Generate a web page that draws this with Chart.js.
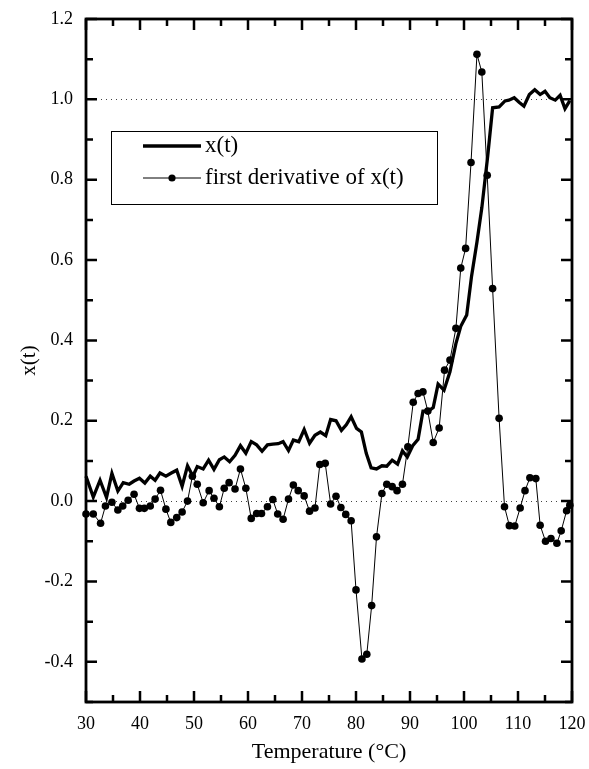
<!DOCTYPE html>
<html><head><meta charset="utf-8">
<script src="https://cdn.jsdelivr.net/npm/chart.js@4/dist/chart.umd.min.js"></script>
<style>html,body{margin:0;padding:0;background:#fff;}#wrap{width:589px;height:769px;}</style>
</head><body><div id="wrap"><canvas id="c" width="589" height="769"></canvas></div>
<script>
const FONT = '"Liberation Serif", "Times New Roman", serif';

const xTickValues = [30, 40, 50, 60, 70, 80, 90, 100, 110, 120];
const yTickValues = [-0.4, -0.2, 0.0, 0.2, 0.4, 0.6, 0.8, 1.0, 1.2];
const yTickLabels = ["-0.4", "-0.2", "0.0", "0.2", "0.4", "0.6", "0.8", "1.0", "1.2"];
const referenceLines = [0.0, 1.0];

const seriesNames = ["x(t)", "first derivative of x(t)"];

const xtTemp = [30.0, 31.35, 32.6, 33.8, 34.8, 35.9, 36.9, 38.0, 38.9, 39.9, 40.9, 41.9, 42.8, 43.7, 44.8, 45.8, 46.8, 47.8, 48.8, 49.8,
  50.6, 51.7, 52.7, 53.7, 54.7, 55.6, 56.6, 57.6, 58.6, 59.6, 60.6, 61.6, 62.6, 63.6, 64.6, 65.6, 66.5, 67.5, 68.4, 69.4,
  70.4, 71.4, 72.4, 73.4, 74.4, 75.3, 76.3, 77.3, 78.2, 79.1, 80.1, 81.0, 81.9, 82.8, 83.8, 84.8, 85.7, 86.7, 87.7, 88.6,
  89.5, 90.5, 91.5, 92.4, 93.4, 94.3, 95.2, 96.3, 97.4, 98.5, 99.4, 100.5, 101.4, 102.4, 103.3, 104.4, 105.3, 106.5, 107.6, 108.3,
  109.3, 110.2, 111.1, 112.1, 113.1, 114.1, 115.0, 115.9, 116.9, 117.8, 118.7, 119.6];
const xtValue = [0.062, 0.010, 0.052, 0.009, 0.069, 0.025, 0.046, 0.042, 0.050, 0.057, 0.045, 0.062, 0.052, 0.070, 0.062, 0.070, 0.077, 0.037, 0.088, 0.062,
  0.086, 0.080, 0.102, 0.079, 0.103, 0.110, 0.098, 0.114, 0.138, 0.119, 0.148, 0.140, 0.124, 0.140, 0.142, 0.143, 0.148, 0.126, 0.152, 0.148,
  0.178, 0.144, 0.164, 0.172, 0.163, 0.203, 0.200, 0.176, 0.190, 0.210, 0.181, 0.172, 0.119, 0.083, 0.080, 0.088, 0.087, 0.102, 0.092, 0.125,
  0.110, 0.138, 0.154, 0.224, 0.224, 0.233, 0.291, 0.276, 0.322, 0.392, 0.435, 0.463, 0.560, 0.645, 0.730, 0.860, 0.979, 0.981, 0.996, 0.998,
  1.004, 0.993, 0.983, 1.012, 1.024, 1.012, 1.020, 1.004, 0.998, 1.010, 0.977, 0.997];

const derivTemp = [30.0, 31.35, 32.7, 33.6, 34.8, 35.9, 36.8, 37.8, 38.9, 39.9, 40.8, 41.9, 42.8, 43.8, 44.8, 45.7, 46.8, 47.8, 48.8, 49.7,
  50.6, 51.7, 52.8, 53.7, 54.7, 55.6, 56.5, 57.6, 58.6, 59.6, 60.6, 61.6, 62.5, 63.6, 64.6, 65.5, 66.5, 67.5, 68.4, 69.3,
  70.4, 71.4, 72.4, 73.3, 74.3, 75.3, 76.3, 77.2, 78.1, 79.1, 80.0, 81.1, 82.0, 82.9, 83.8, 84.8, 85.7, 86.7, 87.6, 88.6,
  89.6, 90.6, 91.5, 92.4, 93.3, 94.3, 95.4, 96.4, 97.4, 98.5, 99.4, 100.3, 101.3, 102.4, 103.3, 104.3, 105.3, 106.5, 107.5, 108.4,
  109.4, 110.4, 111.3, 112.2, 113.3, 114.1, 115.1, 116.1, 117.2, 118.0, 119.0, 119.6];
const derivValue = [-0.032, -0.032, -0.055, -0.012, -0.003, -0.022, -0.012, 0.002, 0.017, -0.018, -0.018, -0.012, 0.005, 0.027, -0.020, -0.053, -0.041, -0.027, 0.000, 0.062,
  0.042, -0.004, 0.026, 0.007, -0.014, 0.032, 0.046, 0.030, 0.080, 0.032, -0.043, -0.031, -0.031, -0.014, 0.004, -0.032, -0.045, 0.005, 0.040, 0.026,
  0.013, -0.025, -0.017, 0.091, 0.094, -0.007, 0.012, -0.016, -0.033, -0.049, -0.221, -0.393, -0.381, -0.260, -0.089, 0.019, 0.042, 0.036, 0.026, 0.042,
  0.135, 0.246, 0.268, 0.272, 0.224, 0.146, 0.182, 0.326, 0.351, 0.430, 0.580, 0.629, 0.843, 1.112, 1.068, 0.811, 0.529, 0.206, -0.014, -0.061,
  -0.062, -0.017, 0.026, 0.058, 0.056, -0.060, -0.100, -0.093, -0.105, -0.074, -0.024, -0.010];

const pairs = (xs, ys) => xs.map((x, i) => ({ x: x, y: ys[i] }));

const framePlugin = {
  id: 'frame',
  beforeDatasetsDraw(chart) {
    const { ctx, chartArea: a, scales: { y } } = chart;
    ctx.save();
    ctx.strokeStyle = '#444';
    ctx.lineWidth = 1;
    ctx.setLineDash([1, 4]);
    referenceLines.forEach(v => {
      const py = Math.round(y.getPixelForValue(v)) + 0.5;
      ctx.beginPath(); ctx.moveTo(a.left, py); ctx.lineTo(a.right, py); ctx.stroke();
    });
    ctx.restore();
  },
  afterDatasetsDraw(chart) {
    const { ctx, chartArea: a, scales: { x, y } } = chart;
    ctx.save();
    ctx.strokeStyle = '#000';
    ctx.lineWidth = 2.5;
    ctx.lineCap = 'butt';
    const major = 11, minor = 7;
    const xs = [];
    for (let i = 0; i < xTickValues.length; i++) {
      xs.push([xTickValues[i], major]);
      if (i < xTickValues.length - 1) xs.push([(xTickValues[i] + xTickValues[i + 1]) / 2, minor]);
    }
    xs.forEach(([v, len]) => {
      const px = x.getPixelForValue(v);
      ctx.beginPath();
      ctx.moveTo(px, a.bottom); ctx.lineTo(px, a.bottom - len);
      ctx.moveTo(px, a.top); ctx.lineTo(px, a.top + len);
      ctx.stroke();
    });
    const ys = [];
    for (let i = 0; i < yTickValues.length; i++) {
      ys.push([yTickValues[i], major]);
      const nxt = i < yTickValues.length - 1 ? yTickValues[i + 1] : null;
      if (nxt !== null) ys.push([(yTickValues[i] + nxt) / 2, minor]);
    }
    ys.push([yTickValues[0] - (yTickValues[1] - yTickValues[0]) / 2, minor]);
    ys.forEach(([v, len]) => {
      const py = y.getPixelForValue(v);
      ctx.beginPath();
      ctx.moveTo(a.left, py); ctx.lineTo(a.left + len, py);
      ctx.moveTo(a.right, py); ctx.lineTo(a.right - len, py);
      ctx.stroke();
    });
    ctx.lineWidth = 2.8;
    ctx.strokeRect(a.left, a.top, a.right - a.left, a.bottom - a.top);

    // legend box
    const bx = 111.5, by = 131.5, bw = 326, bh = 73;
    ctx.fillStyle = '#fff';
    ctx.fillRect(bx, by, bw, bh);
    ctx.lineWidth = 1;
    ctx.strokeRect(bx, by, bw, bh);
    const r1 = 146, r2 = 178, lx1 = 143, lx2 = 201;
    ctx.lineWidth = 3.5;
    ctx.beginPath(); ctx.moveTo(lx1, r1); ctx.lineTo(lx2, r1); ctx.stroke();
    ctx.lineWidth = 1;
    ctx.beginPath(); ctx.moveTo(lx1, r2); ctx.lineTo(lx2, r2); ctx.stroke();
    ctx.fillStyle = '#000';
    ctx.beginPath(); ctx.arc((lx1 + lx2) / 2, r2, 3.6, 0, Math.PI * 2); ctx.fill();
    ctx.font = '23px ' + FONT;
    ctx.textBaseline = 'middle';
    ctx.textAlign = 'left';
    ctx.fillText(seriesNames[0], 205, r1);
    ctx.fillText(seriesNames[1], 205, r2);
    ctx.restore();
  }
};

new Chart(document.getElementById('c'), {
  type: 'line',
  data: {
    datasets: [
      {
        label: seriesNames[1],
        data: pairs(derivTemp, derivValue),
        borderColor: '#000',
        backgroundColor: '#000',
        borderWidth: 1,
        pointRadius: 3.8,
        pointBorderWidth: 0,
        pointBackgroundColor: '#000',
        tension: 0,
        clip: 6,
        order: 1
      },
      {
        label: seriesNames[0],
        data: pairs(xtTemp, xtValue),
        borderColor: '#000',
        borderWidth: 3.3,
        pointRadius: 0,
        tension: 0,
        clip: 4,
        order: 2
      }
    ]
  },
  options: {
    responsive: false,
    animation: false,
    devicePixelRatio: 1,
    layout: { padding: { left: 0, right: 17, top: 19, bottom: 0 } },
    plugins: { legend: { display: false }, tooltip: { enabled: false } },
    scales: {
      x: {
        type: 'linear',
        min: 30, max: 120,
        afterBuildTicks: s => { s.ticks = xTickValues.map(v => ({ value: v })); },
        afterFit: s => { s.height = 67; s.paddingLeft = 0; s.paddingRight = 0; },
        grid: { display: false, drawTicks: false },
        border: { display: false },
        ticks: { color: '#000', font: { family: FONT, size: 18 }, padding: 11, maxRotation: 0, autoSkip: false },
        title: { display: true, text: 'Temperature (°C)', color: '#000', font: { family: FONT, size: 22 }, padding: { top: 0, bottom: 4 } }
      },
      y: {
        type: 'linear',
        min: -0.5, max: 1.2,
        afterBuildTicks: s => { s.ticks = yTickValues.map(v => ({ value: v })); },
        afterFit: s => { s.width = 86; s.paddingTop = 0; s.paddingBottom = 0; },
        grid: { display: false, drawTicks: false },
        border: { display: false },
        ticks: {
          color: '#000', font: { family: FONT, size: 18 }, padding: 13, autoSkip: false,
          callback: (value) => {
            const i = yTickValues.findIndex(t => Math.abs(t - value) < 1e-9);
            return i >= 0 ? yTickLabels[i] : '';
          }
        },
        title: { display: true, text: 'x(t)', color: '#000', font: { family: FONT, size: 21 }, padding: { top: 17, bottom: 0 } }
      }
    }
  },
  plugins: [framePlugin]
});
</script>
</body></html>
